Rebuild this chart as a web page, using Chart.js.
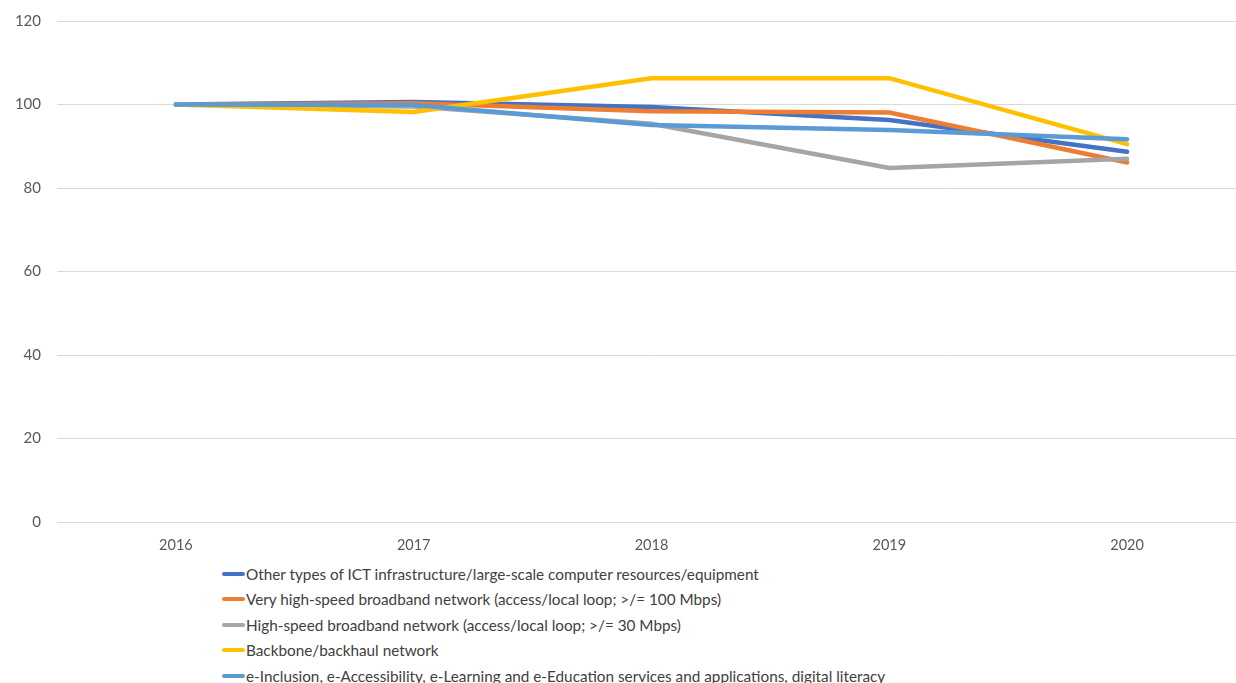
<!DOCTYPE html>
<html>
<head>
<meta charset="utf-8">
<script src="https://cdn.jsdelivr.net/npm/chart.js@4.4.1/dist/chart.umd.min.js"></script>
<style>
  html, body { margin: 0; padding: 0; background: #fff; overflow: hidden; }
  #wrap { position: relative; width: 1246px; height: 555px; }
  #legend { position: absolute; left: 222px; top: 561px; font-family: Lato, "Liberation Sans", sans-serif; font-size: 15.3px; color: #404040; }
  .item { display: flex; align-items: center; height: 25.5px; }
  .swatch { width: 23px; height: 4px; border-radius: 2px; margin-right: 1px; }
</style>
</head>
<body>
<div id="wrap"><canvas id="chart"></canvas></div>
<div id="legend"></div>
<script>
const years = ["2016", "2017", "2018", "2019", "2020"];
const seriesNames = [
  "Other types of ICT infrastructure/large-scale computer resources/equipment",
  "Very high-speed broadband network (access/local loop; >/= 100 Mbps)",
  "High-speed broadband network (access/local loop; >/= 30 Mbps)",
  "Backbone/backhaul network",
  "e-Inclusion, e-Accessibility, e-Learning and e-Education services and applications, digital literacy",
];
const otherIct = [100, 100.6, 99.4, 96.3, 88.7];
const veryHighSpeed = [100, 100.3, 98.4, 98.1, 86.1];
const highSpeed = [100, 99.5, 95.4, 84.8, 87.0];
const backbone = [100, 98.2, 106.3, 106.3, 90.5];
const eInclusion = [100, 99.9, 95.1, 93.9, 91.7];
const colors = ["#4472C4", "#ED7D31", "#A5A5A5", "#FFC000", "#5B9BD5"];

const values = [otherIct, veryHighSpeed, highSpeed, backbone, eInclusion];
const datasets = values.map((v, i) => ({
  label: seriesNames[i],
  data: v,
  borderColor: colors[i],
  backgroundColor: colors[i],
  borderWidth: 4.5,
  pointRadius: 0,
  tension: 0,
  borderCapStyle: "round",
  order: values.length - i,
}));

const ctx = document.getElementById("chart").getContext("2d");
new Chart(ctx, {
  type: "line",
  data: { labels: years, datasets: datasets },
  options: {
    responsive: true,
    maintainAspectRatio: false,
    animation: false,
    layout: { padding: { top: 21, right: 0, bottom: 0, left: 0 } },
    plugins: { legend: { display: false }, tooltip: { enabled: false } },
    scales: {
      x: {
        offset: true,
        grid: { display: false, drawTicks: false },
        border: { display: false },
        ticks: { color: "#595959", padding: 15, font: { family: "Lato", size: 14.5 } },
        afterFit: (s) => { s.height = 33; },
      },
      y: {
        min: 0,
        max: 120,
        ticks: { stepSize: 20, color: "#595959", padding: 16, font: { family: "Lato", size: 15 } },
        grid: { color: "#D9D9D9", lineWidth: 1, drawTicks: false },
        border: { display: false },
        afterFit: (s) => { s.width = 57; s.paddingTop = 0; s.paddingBottom = 0; },
      },
    },
  },
});

// legend, one series per row
const legend = document.getElementById("legend");
seriesNames.forEach((name, i) => {
  const row = document.createElement("div");
  row.className = "item";
  row.innerHTML = `<span class="swatch" style="background:${colors[i]}"></span><span></span>`;
  row.lastChild.textContent = name;
  legend.appendChild(row);
});
</script>
</body>
</html>
